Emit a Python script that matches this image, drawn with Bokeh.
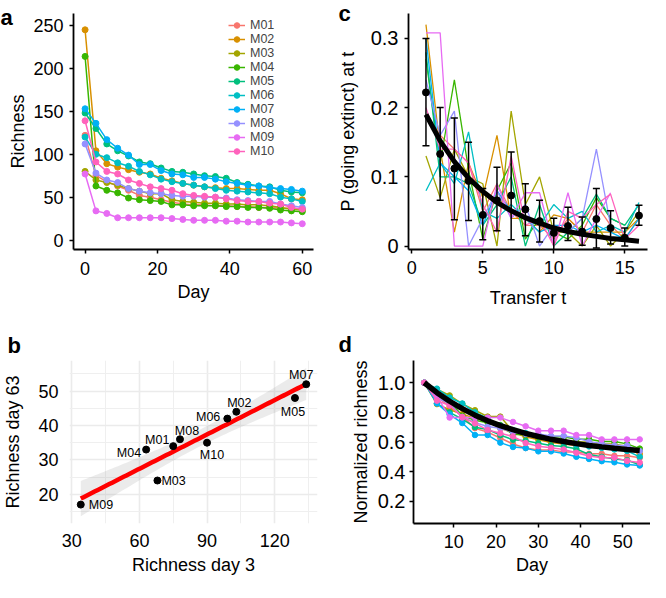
import numpy as np
from bokeh.plotting import figure
from bokeh.layouts import column, row
from bokeh.models import (Range1d, FixedTicker, Legend, LegendItem, Title,
                          ColumnDataSource, Whisker, TeeHead)
from bokeh.core.properties import value
from bokeh.embed import file_html
from bokeh.resources import INLINE

FONT = "Liberation Sans"
NAN = float("nan")

samples = ["M01", "M02", "M03", "M04", "M05", "M06", "M07", "M08", "M09", "M10"]
colors = ["#F8766D", "#D89000", "#A3A500", "#39B600", "#00BF7D",
          "#00BFC4", "#00B0F6", "#9590FF", "#E76BF3", "#FF62BC"]

# ---------------- panel a : richness over time ----------------
days = [0, 3, 6, 9, 12, 15, 18, 21, 24, 27, 30, 33, 36, 39, 42, 45, 48, 51, 54, 57, 60]
rich_M01 = [122, 75, 68, 63, 58, 52, 50, 47, 44, 42, 41, 41, 40, 40, 39, 39, 38, 38, 37, 37, 36]
rich_M02 = [245, 104, 89, 85, 82, 79, 77, 72, 69, 66, 64, 62, 61, 60, 60, 59, 58, 58, 54, 48, 47]
rich_M03 = [80, 70, 67, 64, 60, 57, 54, 54, 47, 45, 44, 43, 43, 42, 42, 41, 41, 40, 38, 36, 35]
rich_M04 = [214, 63, 58, 55, 49, 47, 46, 45, 41, 41, 40, 40, 40, 39, 39, 38, 38, 37, 35, 34, 33]
rich_M05 = [148, 130, 112, 104, 98, 91, 89, 84, 80, 79, 77, 75, 74, 72, 67, 65, 63, 62, 58, 56, 55]
rich_M06 = [120, 100, 96, 90, 86, 80, 76, 71, 68, 66, 64, 62, 60, 58, 57, 56, 55, 54, 50, 48, 45]
rich_M07 = [153, 136, 117, 107, 99, 88, 88, 81, 77, 76, 73, 73, 71, 68, 66, 64, 63, 61, 60, 59, 57]
rich_M08 = [112, 78, 70, 67, 60, 57, 55, 54, 52, 51, 51, 50, 50, 49, 47, 46, 45, 45, 42, 40, 38]
rich_M09 = [77, 34, 31, 26, 26, 26, 26, 26, 25, 24, 23, 23, 23, 22, 22, 21, 21, 21, 21, 20, 19]
rich_M10 = [139, 91, 80, 77, 70, 66, 62, 60, 58, 54, 52, 51, 50, 48, 46, 45, 45, 43, 42, 38, 36]
richness = [rich_M01, rich_M02, rich_M03, rich_M04, rich_M05,
            rich_M06, rich_M07, rich_M08, rich_M09, rich_M10]

# ---------------- panel b : richness day 3 vs day 63 ----------------
day3 = [75, 103, 68, 63, 129, 99, 134, 78, 34, 90]
day63 = [34, 44, 24, 33, 48, 42, 52, 36, 17, 35]
# label placement (screen px offsets / alignment) - layout only
lab_dx = [-16, 3, 4, -5, -2, -7, -5, 7, 8, 5]
lab_dy = [-6, -9, 0, 3, 14, -2, -9, -8, 0, 12]
lab_align = ["center", "center", "left", "right", "center", "right", "center", "center", "left", "center"]

# ---------------- panel c : extinction probability ----------------
transfers = [1, 2, 3, 4, 5, 6, 7, 8, 9, 10, 11, 12, 13, 14, 15, 16]
ext_M01 = [0.19, 0.16, 0.14, 0.12, 0.05, 0.09, 0.05, 0.03, 0.03, 0.01, 0.04, 0.02, 0.06, 0.03, 0.01, 0.04]
ext_M02 = [0.32, 0.14, 0.02, 0.12, 0.07, 0.16, 0.04, 0.04, 0.02, 0.045, 0.04, 0.02, 0.02, 0.02, 0.02, 0.04]
ext_M03 = [0.13, 0.07, 0.14, 0.10, 0.09, 0.00, 0.195, 0.06, 0.10, 0.02, 0.02, 0.00, 0.03, 0.00, 0.02, 0.05]
ext_M04 = [0.27, 0.12, 0.24, 0.11, 0.01, 0.08, 0.12, 0.01, 0.04, 0.02, 0.01, 0.03, 0.07, 0.04, 0.03, NAN]
ext_M05 = [0.28, 0.10, 0.10, 0.09, 0.03, 0.06, 0.10, 0.00, 0.06, 0.00, 0.02, 0.04, 0.075, 0.04, 0.03, 0.06]
ext_M06 = [0.08, 0.12, 0.09, 0.165, 0.05, 0.04, 0.06, 0.04, 0.03, 0.06, 0.04, 0.05, 0.02, 0.03, 0.02, 0.063]
ext_M07 = [0.30, 0.12, 0.10, 0.08, 0.03, 0.08, 0.05, 0.04, 0.02, 0.03, 0.03, 0.02, 0.03, 0.02, 0.01, 0.04]
ext_M08 = [0.24, 0.16, 0.195, 0.00, 0.04, 0.08, 0.04, 0.06, 0.00, 0.03, 0.02, 0.04, 0.14, 0.03, NAN, NAN]
ext_M09 = [0.308, 0.308, 0.00, 0.00, 0.00, 0.09, 0.04, 0.077, 0.077, 0.00, 0.077, 0.00, 0.04, 0.077, NAN, NAN]
ext_M10 = [0.20, 0.14, 0.14, 0.12, 0.06, 0.02, 0.13, 0.03, 0.04, 0.00, 0.05, 0.04, 0.06, 0.075, 0.01, 0.03]
extinction = [ext_M01, ext_M02, ext_M03, ext_M04, ext_M05,
              ext_M06, ext_M07, ext_M08, ext_M09, ext_M10]
p_mean = [0.222, 0.133, 0.112, 0.094, 0.045, 0.066, 0.073, 0.053, 0.036, 0.019, 0.029, 0.021, 0.039, 0.026, 0.012, 0.044]
p_low = [0.145, 0.066, 0.038, 0.037, 0.009, 0.022, 0.009, 0.015, 0.006, -0.011, 0.008, 0.001, -0.003, 0.003, 0.000, 0.030]
p_high = [0.300, 0.200, 0.185, 0.150, 0.083, 0.114, 0.136, 0.090, 0.066, 0.040, 0.056, 0.042, 0.083, 0.051, 0.026, 0.059]
p_fit = [0.190, 0.152, 0.122, 0.098, 0.079, 0.063, 0.051, 0.041, 0.033, 0.026, 0.021, 0.017, 0.014, 0.011, 0.009, 0.007]

# ---------------- panel d : normalized richness ----------------
norm_days = days[1:19]
d_fit = [1.0, 0.933, 0.875, 0.825, 0.781, 0.743, 0.711, 0.683, 0.658,
         0.637, 0.618, 0.603, 0.589, 0.577, 0.567, 0.558, 0.550, 0.543]

TICK = "18px"
TITLE = "18px"


def base_fig(w, h, xr, yr, left, right, top, bottom):
    p = figure(width=w, height=h, x_range=Range1d(*xr), y_range=Range1d(*yr),
               output_backend="svg", toolbar_location=None,
               min_border_left=left, min_border_right=right,
               min_border_top=top, min_border_bottom=bottom)
    p.outline_line_color = None
    p.background_fill_color = "white"
    p.border_fill_color = "white"
    for ax in (p.xaxis[0], p.yaxis[0]):
        ax.axis_line_color = "black"
        ax.axis_line_width = 1.8
        ax.major_tick_line_color = "black"
        ax.major_tick_line_width = 1.5
        ax.major_tick_out = 4
        ax.major_tick_in = 0
        ax.minor_tick_line_color = None
        ax.major_label_text_font = FONT
        ax.major_label_text_font_size = TICK
        ax.major_label_text_color = "black"
        ax.axis_label_text_font = FONT
        ax.axis_label_text_font_size = TITLE
        ax.axis_label_text_font_style = "normal"
        ax.axis_label_text_color = "black"
    p.xgrid.grid_line_color = None
    p.ygrid.grid_line_color = None
    return p


def x_title(p, txt, standoff):
    # x-axis title placed as a layout title below the axis
    p.add_layout(Title(text=txt, align="center", vertical_align="top", standoff=standoff,
                       text_font=FONT, text_font_size=TITLE, text_font_style="normal",
                       text_color="black"), "below")


def title_letter(p, txt, offset, standoff):
    p.title.text = txt
    p.title.align = "left"
    p.title.offset = offset
    p.title.standoff = standoff
    p.title.text_font = FONT
    p.title.text_font_size = "22px"
    p.title.text_font_style = "bold"
    p.title.text_color = "black"
    p.title.text_line_height = 0.5


# ---------- a ----------
pa = base_fig(325, 320, (-3.2, 63.1), (-11, 264), 73, 12, 10, 65)
pa.xaxis.ticker = FixedTicker(ticks=[0, 20, 40, 60])
pa.yaxis.ticker = FixedTicker(ticks=[0, 50, 100, 150, 200, 250])
pa.yaxis.axis_label = "Richness"
pa.xaxis.major_label_standoff = 8
pa.yaxis.major_label_standoff = 6
pa.yaxis.axis_label_standoff = 2
x_title(pa, "Day", 8)
items = []
for name, col, vals in zip(samples, colors, richness):
    lr = pa.line(days, vals, line_color=col, line_width=1.5)
    sr = pa.scatter(days, vals, marker="circle", size=6, fill_color=col, line_color=col)
    items.append(LegendItem(label=name, renderers=[lr, sr]))
leg = Legend(items=items, location=(155, 91), orientation="vertical",
             background_fill_alpha=0, border_line_color=None, padding=0, margin=0,
             spacing=0, label_text_font=FONT, label_text_font_size="12.5px",
             glyph_width=17, glyph_height=14, label_height=14, label_standoff=5)
pa.add_layout(leg)
title_letter(pa, "a", -73, -33)

# ---------- c ----------
pc = base_fig(325, 320, (-0.23, 16.6), (-0.005, 0.336), 83, 3, 13, 69)
pc.xaxis.ticker = FixedTicker(ticks=[0, 5, 10, 15])
pc.yaxis.ticker = FixedTicker(ticks=[0, 0.1, 0.2, 0.3])
pc.yaxis.major_label_overrides = {0: "0", 0.1: "0.1", 0.2: "0.2", 0.3: "0.3"}
pc.yaxis.axis_label = "P (going extinct) at t"
pc.yaxis.major_label_text_font_size = "20px"
pc.xaxis.major_label_standoff = 7
pc.yaxis.major_label_standoff = 6
pc.yaxis.axis_label_standoff = 10
x_title(pc, "Transfer t", 22)
for col, vals in zip(colors, extinction):
    pc.line(transfers, vals, line_color=col, line_width=1.3)
pc.line(transfers, p_fit, line_color="black", line_width=5)
wsrc = ColumnDataSource(dict(t=transfers, lo=p_low, hi=p_high))
wh = Whisker(source=wsrc, base="t", upper="hi", lower="lo", line_color="black", line_width=1.5,
             upper_head=TeeHead(size=7, line_color="black", line_width=1.5),
             lower_head=TeeHead(size=7, line_color="black", line_width=1.5),
             level="annotation")
pc.add_layout(wh)
pc.scatter(transfers, p_mean, marker="circle", size=7, fill_color="black", line_color="black")
title_letter(pc, "c", -70, -24)

# ---------- b ----------
pb = base_fig(325, 262, (29, 139), (11.5, 58.9), 62, 8, 33, 51)
for ax in (pb.xaxis[0], pb.yaxis[0]):
    ax.axis_line_color = None
    ax.major_tick_line_color = None
    ax.major_tick_out = 0
pb.xaxis.ticker = FixedTicker(ticks=[30, 60, 90, 120], minor_ticks=[45, 75, 105, 135])
pb.yaxis.ticker = FixedTicker(ticks=[20, 30, 40, 50], minor_ticks=[15, 25, 35, 45, 55])
pb.yaxis.axis_label = "Richness day 63"
pb.xaxis.major_label_standoff = 6
pb.yaxis.major_label_standoff = 7
pb.yaxis.axis_label_standoff = 12
x_title(pb, "Richness day 3", 11)
for g in (pb.xgrid[0], pb.ygrid[0]):
    g.grid_line_color = "#EBEBEB"
    g.grid_line_width = 1.6
    g.minor_grid_line_color = "#EFEFEF"
    g.minor_grid_line_width = 1.0
xb = np.array(day3, dtype=float)
yb = np.array(day63, dtype=float)
slope, intercept = np.polyfit(xb, yb, 1)
n = len(xb)
resid = yb - (slope * xb + intercept)
s = np.sqrt(np.sum(resid ** 2) / (n - 2))
sxx = np.sum((xb - xb.mean()) ** 2)
xs = np.linspace(xb.min(), xb.max(), 80)
fit = slope * xs + intercept
se = s * np.sqrt(1.0 / n + (xs - xb.mean()) ** 2 / sxx)
tcrit = 2.306  # t quantile, df = 8
pb.varea(x=xs, y1=fit - tcrit * se, y2=fit + tcrit * se, fill_color="#999999", fill_alpha=0.2)
pb.line(xs, fit, line_color="#FF0000", line_width=4.5)
pb.scatter(day3, day63, marker="circle", size=7, fill_color="black", line_color="black")
lsrc = ColumnDataSource(dict(x=day3, y=day63, t=samples, dx=lab_dx, dy=lab_dy, al=lab_align))
pb.text(x="x", y="y", text="t", x_offset="dx", y_offset="dy", text_align="al",
        text_baseline="middle", text_font=value(FONT), text_font_size="12.5px",
        text_color="black", source=lsrc)
title_letter(pb, "b", -62, 5)

# ---------- d ----------
pd_ = base_fig(325, 262, (0.45, 56.55), (0.05, 1.15), 88, 0, 40, 53)
pd_.xaxis.ticker = FixedTicker(ticks=[10, 20, 30, 40, 50])
pd_.yaxis.ticker = FixedTicker(ticks=[0.2, 0.4, 0.6, 0.8, 1.0])
pd_.yaxis.major_label_overrides = {0.2: "0.2", 0.4: "0.4", 0.6: "0.6", 0.8: "0.8", 1.0: "1.0"}
pd_.yaxis.major_label_text_font_size = "20px"
pd_.yaxis.axis_label = "Normalized richness"
pd_.xaxis.major_label_standoff = 7
pd_.yaxis.major_label_standoff = 4
pd_.yaxis.axis_label_standoff = 4
x_title(pd_, "Day", 8)
for col, vals in zip(colors, richness):
    nv = [v / vals[1] for v in vals[1:19]]
    pd_.line(norm_days, nv, line_color=col, line_width=1.5)
    pd_.scatter(norm_days, nv, marker="circle", size=5.5, fill_color=col, line_color=col)
pd_.line(norm_days, d_fit, line_color="black", line_width=5.5)
title_letter(pd_, "d", -75, 8)

layout = column(row(pa, pc), row(pb, pd_))
open("out.html", "w").write(file_html(layout, INLINE))
